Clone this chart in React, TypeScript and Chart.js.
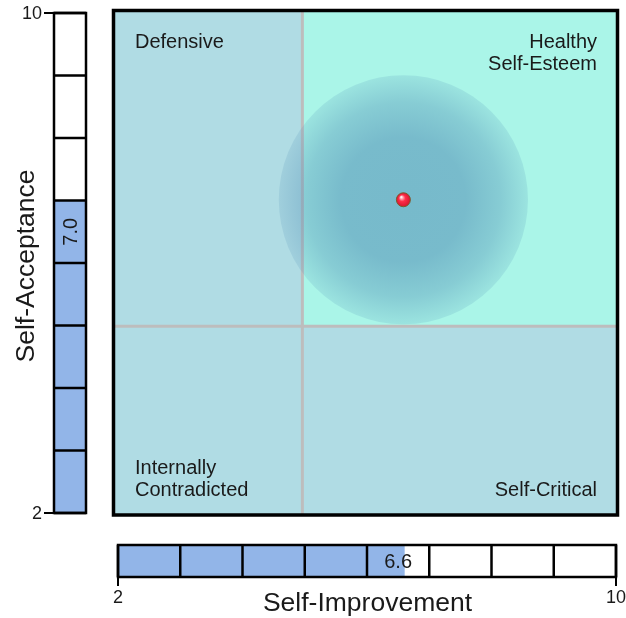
import React, { useEffect, useRef } from 'react';
import { Chart, registerables } from 'chart.js';

Chart.register(...registerables);

const FONT = '"Liberation Sans", Arial, Helvetica, sans-serif';
const TEXT = '#1a1a1a';

// ---- data ----
const axisMin = 2;
const axisMax = 10;
const gaugeSteps = [2, 3, 4, 5, 6, 7, 8, 9, 10];
const gaugeTickLabels = [2, 10];
const quadrantSplitX = 5;
const quadrantSplitY = 5;
const scoreImprovement = [6.6];
const scoreAcceptance = [7.0];
const spreadRadius = [1.97];
const quadrantTopLeft = ['Defensive'];
const quadrantTopRight = ['Healthy', 'Self-Esteem'];
const quadrantBottomLeft = ['Internally', 'Contradicted'];
const quadrantBottomRight = ['Self-Critical'];
const axisTitleX = 'Self-Improvement';
const axisTitleY = 'Self-Acceptance';

// ---- colours ----
const LIGHT = '#b0dce4';
const AQUA = '#aaf5e8';
const GRID = '#bdbdbd';
const GAUGE_FILL = '#92b5e8';

function MainChart() {
  const ref = useRef<HTMLCanvasElement>(null);
  useEffect(() => {
    const canvas = ref.current!;
    const points = scoreImprovement.map((v, i) => ({ x: v, y: scoreAcceptance[i] }));

    const quadPlugin = {
      id: 'quadrants',
      beforeDatasetsDraw(chart: any) {
        const { ctx, scales } = chart;
        const x = scales.x, y = scales.y;
        const x0 = x.getPixelForValue(axisMin), x1 = x.getPixelForValue(axisMax);
        const y0 = y.getPixelForValue(axisMax), y1 = y.getPixelForValue(axisMin);
        const sx = x.getPixelForValue(quadrantSplitX);
        const sy = y.getPixelForValue(quadrantSplitY);
        ctx.save();
        ctx.fillStyle = LIGHT;
        ctx.fillRect(x0, y0, x1 - x0, y1 - y0);
        ctx.fillStyle = AQUA;
        ctx.fillRect(sx, y0, x1 - sx, sy - y0);
        ctx.strokeStyle = GRID;
        ctx.lineWidth = 3;
        ctx.beginPath();
        ctx.moveTo(sx, y0); ctx.lineTo(sx, y1);
        ctx.moveTo(x0, sy); ctx.lineTo(x1, sy);
        ctx.stroke();
        ctx.restore();
      },
      afterDatasetsDraw(chart: any) {
        const { ctx, chartArea: a } = chart;
        ctx.save();
        ctx.fillStyle = TEXT;
        ctx.font = `20px ${FONT}`;
        ctx.textBaseline = 'middle';
        const lh = 22;
        const lx = a.left + 22, rx = a.right - 21;
        const ty = a.top + 32, by = a.bottom - 26;
        ctx.textAlign = 'left';
        quadrantTopLeft.forEach((t, i) => ctx.fillText(t, lx, ty + i * lh));
        quadrantBottomLeft.forEach((t, i, arr) => ctx.fillText(t, lx, by - (arr.length - 1 - i) * lh));
        ctx.textAlign = 'right';
        quadrantTopRight.forEach((t, i) => ctx.fillText(t, rx, ty + i * lh));
        quadrantBottomRight.forEach((t, i, arr) => ctx.fillText(t, rx, by - (arr.length - 1 - i) * lh));
        ctx.restore();
      },
      afterDraw(chart: any) {
        const { ctx, chartArea: a } = chart;
        ctx.save();
        ctx.strokeStyle = '#000';
        ctx.lineWidth = 3.5;
        ctx.strokeRect(a.left + 0.5, a.top + 0.5, a.width - 1, a.height - 1.5);
        ctx.restore();
      },
    };

    const spreadPx = (c: any) => {
      const chart = c.chart;
      if (!chart.chartArea || !c.raw) return 0;
      const y = chart.scales.y;
      const r = spreadRadius[c.dataIndex] ?? spreadRadius[0];
      return Math.abs(y.getPixelForValue(c.raw.y - r) - y.getPixelForValue(c.raw.y));
    };

    const chart = new Chart(canvas, {
      type: 'scatter',
      data: {
        datasets: [
          {
            label: 'score',
            data: points,
            order: 0,
            pointRadius: 7,
            pointBorderWidth: 1,
            pointBorderColor: '#7a5c2e',
            pointBackgroundColor: (c: any) => {
              const chart = c.chart;
              if (!chart.chartArea || !c.raw) return '#f01c36';
              const cx = chart.scales.x.getPixelForValue(c.raw.x);
              const cy = chart.scales.y.getPixelForValue(c.raw.y);
              const g = chart.ctx.createRadialGradient(cx - 2.2, cy - 2.8, 0.3, cx, cy, 7);
              g.addColorStop(0, '#ffffff');
              g.addColorStop(0.2, '#ff9aa6');
              g.addColorStop(0.45, '#ff2d48');
              g.addColorStop(1, '#d8142e');
              return g;
            },
          } as any,
          {
            label: 'spread',
            data: points,
            order: 1,
            pointRadius: spreadPx,
            pointBorderWidth: 0,
            pointBackgroundColor: (c: any) => {
              const chart = c.chart;
              if (!chart.chartArea || !c.raw) return 'rgba(82,143,182,0.4)';
              const cx = chart.scales.x.getPixelForValue(c.raw.x);
              const cy = chart.scales.y.getPixelForValue(c.raw.y);
              const r = spreadPx(c) || 1;
              const g = chart.ctx.createRadialGradient(cx, cy, 0, cx, cy, r);
              g.addColorStop(0, 'rgba(82,143,182,0.58)');
              g.addColorStop(0.5, 'rgba(82,143,182,0.57)');
              g.addColorStop(0.78, 'rgba(82,143,182,0.4)');
              g.addColorStop(1, 'rgba(82,143,182,0.17)');
              return g;
            },
          } as any,
        ],
      },
      options: {
        responsive: false,
        animation: false,
        devicePixelRatio: 1,
        events: [],
        layout: { padding: { left: 13, right: 6, top: 10, bottom: 14 } },
        scales: {
          x: { type: 'linear', min: axisMin, max: axisMax, display: false },
          y: { type: 'linear', min: axisMin, max: axisMax, display: false },
        },
        plugins: { legend: { display: false }, tooltip: { enabled: false } },
      },
      plugins: [quadPlugin],
    });
    return () => chart.destroy();
  }, []);
  return (
    <canvas
      ref={ref}
      width={526}
      height={530}
      style={{ position: 'absolute', left: 100, top: 0, width: 526, height: 530 }}
    />
  );
}

type GaugeProps = {
  vertical: boolean;
  value: number;
  title: string;
  rect: { left: number; top: number; width: number; height: number };
  padding: { left: number; right: number; top: number; bottom: number };
};

function Gauge({ vertical, value, title, rect, padding }: GaugeProps) {
  const ref = useRef<HTMLCanvasElement>(null);
  useEffect(() => {
    const canvas = ref.current!;
    const gaugePlugin = {
      id: 'gauge',
      afterDatasetsDraw(chart: any) {
        const { ctx, chartArea: a } = chart;
        const vs = vertical ? chart.scales.y : chart.scales.x;
        ctx.save();
        ctx.strokeStyle = '#000';
        ctx.lineWidth = 2.5;
        ctx.beginPath();
        gaugeSteps.forEach((v) => {
          const p = vs.getPixelForValue(v);
          if (vertical) { ctx.moveTo(a.left, p); ctx.lineTo(a.right, p); }
          else { ctx.moveTo(p, a.top); ctx.lineTo(p, a.bottom); }
        });
        ctx.stroke();
        ctx.strokeRect(a.left, a.top, a.width, a.height);

        // end ticks + labels
        ctx.lineWidth = 2;
        ctx.fillStyle = TEXT;
        ctx.font = `18px ${FONT}`;
        gaugeTickLabels.forEach((v) => {
          const p = vs.getPixelForValue(v);
          ctx.beginPath();
          if (vertical) {
            ctx.moveTo(a.left - 10, p); ctx.lineTo(a.left, p);
            ctx.stroke();
            ctx.textAlign = 'right';
            ctx.textBaseline = 'middle';
            ctx.fillText(String(v), a.left - 12, p + 1);
          } else {
            ctx.moveTo(p, a.bottom); ctx.lineTo(p, a.bottom + 9);
            ctx.stroke();
            ctx.textAlign = 'center';
            ctx.textBaseline = 'middle';
            ctx.fillText(String(v), p, a.bottom + 21);
          }
        });

        // value label in its segment
        const lo = Math.ceil(value) - 1;
        const mid = (vs.getPixelForValue(lo) + vs.getPixelForValue(lo + 1)) / 2;
        ctx.font = `20px ${FONT}`;
        ctx.textAlign = 'center';
        ctx.textBaseline = 'middle';
        if (vertical) {
          ctx.save();
          ctx.translate((a.left + a.right) / 2 + 1, mid);
          ctx.rotate(-Math.PI / 2);
          ctx.fillText(value.toFixed(1), 0, 0);
          ctx.restore();
        } else {
          ctx.fillText(value.toFixed(1), mid, (a.top + a.bottom) / 2 + 1);
        }

        // axis title
        ctx.font = `26.5px ${FONT}`;
        ctx.textAlign = 'center';
        ctx.textBaseline = 'alphabetic';
        if (vertical) {
          ctx.save();
          ctx.translate(34, (a.top + a.bottom) / 2 + 3);
          ctx.rotate(-Math.PI / 2);
          ctx.fillText(title, 0, 0);
          ctx.restore();
        } else {
          ctx.fillText(title, (a.left + a.right) / 2 + 0.5, a.bottom + 34);
        }
        ctx.restore();
      },
    };

    const valueScale = { type: 'linear', min: axisMin, max: axisMax, display: false };
    const catScale = { type: 'category', display: false };
    const chart = new Chart(canvas, {
      type: 'bar',
      data: {
        labels: [title],
        datasets: [
          {
            label: title,
            data: [[axisMin, value]] as any,
            backgroundColor: GAUGE_FILL,
            borderWidth: 0,
            barPercentage: 1,
            categoryPercentage: 1,
          },
        ],
      },
      options: {
        responsive: false,
        animation: false,
        devicePixelRatio: 1,
        events: [],
        indexAxis: vertical ? 'x' : 'y',
        layout: { padding },
        scales: vertical
          ? ({ x: catScale, y: valueScale } as any)
          : ({ x: valueScale, y: catScale } as any),
        plugins: { legend: { display: false }, tooltip: { enabled: false } },
      },
      plugins: [gaugePlugin],
    });
    return () => chart.destroy();
  }, []);
  return (
    <canvas
      ref={ref}
      width={rect.width}
      height={rect.height}
      style={{ position: 'absolute', ...rect }}
    />
  );
}

export default function App() {
  return (
    <div
      style={{
        position: 'fixed',
        left: 0,
        top: 0,
        width: 626,
        height: 618,
        background: '#ffffff',
        overflow: 'hidden',
      }}
    >
      <Gauge
        vertical
        value={scoreAcceptance[0]}
        title={axisTitleY}
        rect={{ left: 0, top: 0, width: 100, height: 540 }}
        padding={{ left: 54, right: 14, top: 13, bottom: 27 }}
      />
      <MainChart />
      <Gauge
        vertical={false}
        value={scoreImprovement[0]}
        title={axisTitleX}
        rect={{ left: 100, top: 530, width: 526, height: 88 }}
        padding={{ left: 18, right: 10, top: 15, bottom: 41 }}
      />
    </div>
  );
}
